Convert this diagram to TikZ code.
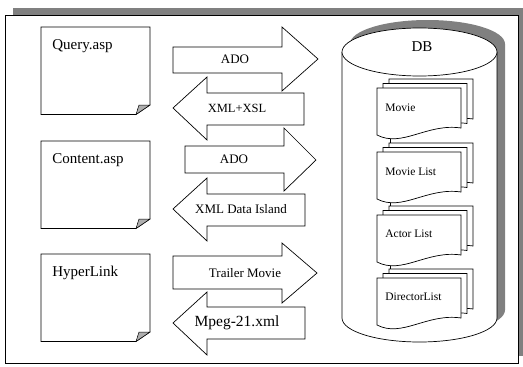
\documentclass[tikz,border=0pt]{standalone}
\usepackage{fontspec}
\setmainfont{Liberation Serif}
\definecolor{shadowgray}{RGB}{128,128,128}
\definecolor{foldgray}{RGB}{175,175,175}
\begin{document}
\begin{tikzpicture}[x=1pt,y=-1pt,line width=0.7pt,
  shadowfill/.style={fill=shadowgray},
  arrowbox/.style={draw=black,fill=white,line join=miter},
  doclabel/.style={anchor=west,inner sep=0pt,font=\fontsize{15}{17}\selectfont},
  alabel/.style={inner sep=0pt,font=\fontsize{13}{15}\selectfont},
  itemlabel/.style={anchor=west,inner sep=0pt,font=\fontsize{11.5}{13}\selectfont},
  notedoc/.pic={
    \draw[fill=white] (0,0) -- (109,0) -- (109,78) -- (95,87.5) -- (0,87.5) -- cycle;
    \draw[fill=foldgray,line width=0.5pt] (95,87.5) -- (98,78) -- (109,78) -- cycle;
  },
  mdoc/.pic={
    \foreach \pg in {2,1,0} {
      \draw[fill=white,shift={(6*\pg,-4.5*\pg)}] (0,0) -- (84,0) -- (84,40)
        .. controls (50,35) and (25,60) .. (0,47) -- cycle;
    }
  }]
\useasboundingbox (0,0) rectangle (523,367);

% outer frame with shadow
\fill[shadowfill] (13,8) rectangle (523,356);
\draw[fill=white] (5,15) rectangle (518,363);

% note documents
\pic at (41,27) {notedoc};
\pic at (41,141) {notedoc};
\pic at (41,254) {notedoc};
\node[doclabel] (query) at (52,46) {Query.asp};
\node[doclabel] (content) at (52,160) {Content.asp};
\node[doclabel] (hyper) at (52,273) {HyperLink};

% block arrows
\draw[arrowbox] (173,47) -- (282,47) -- (282,27) -- (318,59) -- (282,91) -- (282,73) -- (173,73) -- cycle;
\node[alabel] (ado1) at (235,59) {ADO};
\draw[arrowbox] (173,108) -- (207,77) -- (207,93) -- (304,93) -- (304,125) -- (207,125) -- (207,140) -- cycle;
\node[alabel,font=\fontsize{12.5}{14}\selectfont] (xmlxsl) at (237,108) {XML+XSL};

\draw[arrowbox] (185,146) -- (284,146) -- (284,128) -- (316,160) -- (284,191) -- (284,173) -- (185,173) -- cycle;
\node[alabel] (ado2) at (234,159) {ADO};
\draw[arrowbox] (173,209) -- (207,178) -- (207,194) -- (305,194) -- (305,226) -- (207,226) -- (207,241) -- cycle;
\node[alabel] (island) at (241,209) {XML Data Island};

\draw[arrowbox] (173,256) -- (282,256) -- (282,243) -- (317,273) -- (282,303) -- (282,289) -- (173,289) -- cycle;
\node[alabel] (trailer) at (245,273) {Trailer Movie};
\draw[arrowbox] (173,323) -- (207,292) -- (207,307) -- (305,307) -- (305,339) -- (207,339) -- (207,355) -- cycle;
\node[alabel,font=\fontsize{15.5}{17}\selectfont] (mpeg) at (237,323) {Mpeg-21.xml};

% database cylinder with shadow
\fill[shadowfill] (350,44) -- (350,310) arc[start angle=180,end angle=0,x radius=77.5,y radius=24]
  -- (505,44) arc[start angle=0,end angle=-180,x radius=77.5,y radius=24] -- cycle;
\fill[white] (342,52) rectangle (497,318);
\fill[white] (419.5,318) ellipse[x radius=77.5,y radius=24];
\draw (342,52) -- (342,318) arc[start angle=180,end angle=0,x radius=77.5,y radius=24] -- (497,52);
\draw[fill=white] (419.5,52) ellipse[x radius=77.5,y radius=24];
\node[font=\fontsize{15}{17}\selectfont,inner sep=0pt] (db) at (422,47) {DB};

% stacked documents inside the database
\coordinate (m1b) at (390,138);
\coordinate (m2t) at (390,143);
\coordinate (m2b) at (390,202);
\coordinate (m3t) at (390,206);
\coordinate (m3b) at (390,265);
\coordinate (m4t) at (390,269);
\draw (m1b) -- (m2t);
\draw (m2b) -- (m3t);
\draw (m3b) -- (m4t);
\pic at (377,88) {mdoc};
\pic at (377,152) {mdoc};
\pic at (377,215) {mdoc};
\pic at (377,278) {mdoc};
\node[itemlabel] (movie) at (385,108) {Movie};
\node[itemlabel] (movielist) at (385,172) {Movie List};
\node[itemlabel] (actor) at (385,234) {Actor List};
\node[itemlabel] (director) at (385,297) {DirectorList};
\end{tikzpicture}
\end{document}
